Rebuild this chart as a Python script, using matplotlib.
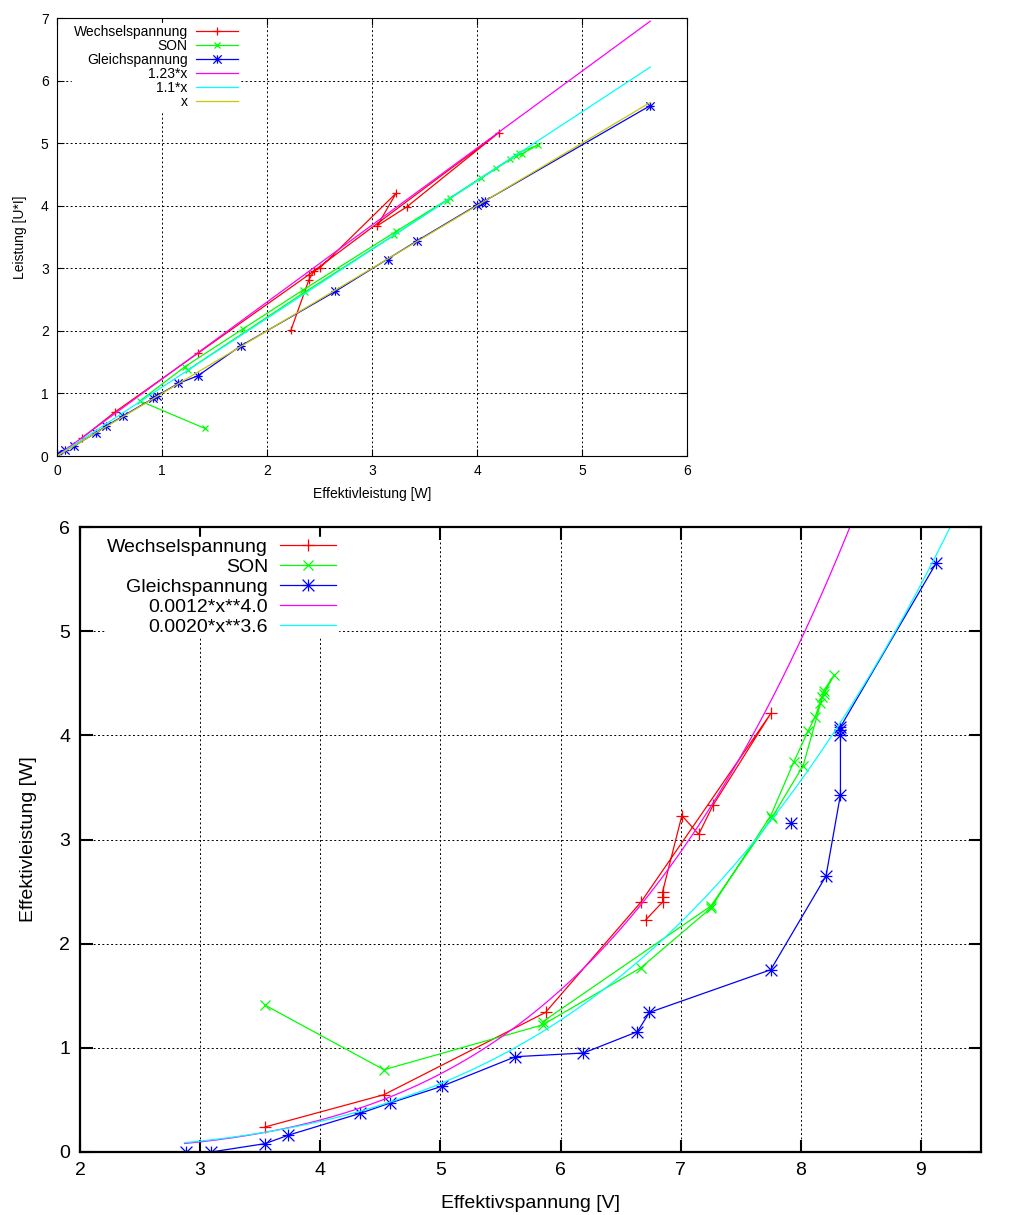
import numpy as np
import matplotlib
matplotlib.use('Agg')
import matplotlib.pyplot as plt
from matplotlib.path import Path

# Messwerte: U = Effektivspannung [V], P = Effektivleistung [W], UI = Leistung [U*I]
wU = [3.54, 4.53, 5.875, 6.67, 7.75, 7.27, 7.15, 7.01, 6.85, 6.85, 6.85, 6.71]
wP = [0.24, 0.55, 1.34, 2.40, 4.21, 3.33, 3.05, 3.23, 2.50, 2.45, 2.40, 2.23]
wUI = [0.29, 0.70, 1.64, 2.90, 5.17, 3.98, 3.68, 4.20, 3.00, 2.96, 2.82, 2.02]

sU = [3.54, 4.53, 5.85, 6.67, 7.25, 7.75, 7.94, 8.06, 8.12, 8.16, 8.19, 8.28, 8.19, 8.18, 8.02, 7.76, 7.25, 5.85]
sP = [1.41, 0.79, 1.22, 1.77, 2.34, 3.23, 3.74, 4.04, 4.18, 4.31, 4.40, 4.58, 4.43, 4.37, 3.71, 3.21, 2.36, 1.25]
sUI = [0.44, 0.88, 1.43, 2.03, 2.65, 3.59, 4.12, 4.45, 4.60, 4.74, 4.85, 4.97, 4.83, 4.80, 4.08, 3.53, 2.62, 1.38]

gU = [2.88, 3.09, 3.54, 3.73, 4.33, 4.58, 5.01, 5.625, 6.19, 6.64, 6.74, 7.75, 8.21, 8.33, 8.33, 8.33, 8.33, 9.125]
gP = [0.0, 0.0, 0.08, 0.16, 0.37, 0.47, 0.63, 0.915, 0.95, 1.155, 1.34, 1.75, 2.65, 3.43, 4.00, 4.05, 4.08, 5.65]
gUI = [0.03, 0.03, 0.10, 0.16, 0.37, 0.48, 0.64, 0.92, 0.96, 1.16, 1.28, 1.76, 2.63, 3.44, 4.01, 4.05, 4.08, 5.60]
# einzelner Punkt ohne Verbindung
gU2 = [7.92]
gP2 = [3.155]
gUI2 = [3.14]

# Fitfunktionen
faktoren = [1.23, 1.1, 1.0]
namen_oben = ['1.23*x', '1.1*x', 'x']
koeff = [(0.0012, 4.0), (0.0020, 3.6)]
namen_unten = ['0.0012*x**4.0', '0.0020*x**3.6']

plt.rcParams['font.family'] = ['Liberation Sans', 'DejaVu Sans']

rot = '#ff0000'
gruen = '#00ff00'
blau = '#0000ff'
farben_f = ['#ff00ff', '#00ffff', '#c8c800']

# Stern wie bei gnuplot (+ und x)
stern = Path([(-1, 0), (1, 0), (0, -1), (0, 1), (-1, -1), (1, 1), (-1, 1), (1, -1)],
             [Path.MOVETO, Path.LINETO] * 4)

fig = plt.figure(figsize=(10.18, 12.15), dpi=100)
ax1 = fig.add_axes([57/1018., 1-456/1215., 630/1018., 438/1215.])
ax2 = fig.add_axes([80/1018., 1-1152/1215., 901/1018., 625/1215.])

# ---- oben ----
lw = 0.9
ax1.plot(wP, wUI, color=rot, lw=lw, marker='+', ms=6, mew=0.9, mfc='none', label='Wechselspannung')
ax1.plot(sP, sUI, color=gruen, lw=lw, marker='x', ms=5, mew=0.9, mfc='none', label='SON')
ax1.plot(gP, gUI, color=blau, lw=lw, marker=stern, ms=6, mew=0.9, mfc='none', label='Gleichspannung')
ax1.plot(gP2, gUI2, color=blau, ls='none', marker=stern, ms=6, mew=0.9, mfc='none')
xf = np.linspace(0, 5.65, 200)
for k, n, c in zip(faktoren, namen_oben, farben_f):
	ax1.plot(xf, k*xf, color=c, lw=lw, label=n)

ax1.set_xlim(0, 6)
ax1.set_ylim(0, 7)
ax1.set_xticks(range(0, 7))
ax1.set_yticks(range(0, 8))
ax1.set_xlabel('Effektivleistung [W]', fontsize=10, labelpad=6)
ax1.set_ylabel('Leistung [U*I]', fontsize=10, labelpad=10)
ax1.tick_params(direction='in', top=True, right=True, length=5, width=0.8, labelsize=10, pad=6)
for s in ax1.spines.values():
	s.set_linewidth(0.8)
ax1.grid(True, color='black', ls=(0, (2, 2.5)), lw=0.7)
ax1.set_axisbelow(True)
leg1 = ax1.legend(loc='upper right', bbox_to_anchor=(0.2955, 0.997), markerfirst=False, fontsize=10,
	labelspacing=0.0, handlelength=3.0, handletextpad=0.6, borderpad=0.1, borderaxespad=0.3,
	fancybox=False, framealpha=1, facecolor='white', edgecolor='white')

# ---- unten ----
ax2.plot(wU, wP, color=rot, lw=lw, marker='+', ms=8, mew=0.9, mfc='none', label='Wechselspannung')
ax2.plot(sU, sP, color=gruen, lw=lw, marker='x', ms=7, mew=0.9, mfc='none', label='SON')
ax2.plot(gU, gP, color=blau, lw=lw, marker=stern, ms=8.5, mew=0.9, mfc='none', label='Gleichspannung')
ax2.plot(gU2, gP2, color=blau, ls='none', marker=stern, ms=8.5, mew=0.9, mfc='none')
xu = np.linspace(2.87, 9.5, 400)
for (a, b), n, c in zip(koeff, namen_unten, farben_f):
	ax2.plot(xu, a*xu**b, color=c, lw=lw, label=n)

ax2.set_xlim(2, 9.5)
ax2.set_ylim(0, 6)
ax2.set_xticks(range(2, 10))
ax2.set_yticks(range(0, 7))
ax2.set_xlabel('Effektivspannung [V]', fontsize=14, labelpad=12)
ax2.set_ylabel('Effektivleistung [W]', fontsize=14, labelpad=16)
ax2.tick_params(direction='in', top=True, right=True, length=9, width=1.5, labelsize=14, pad=7)
for s in ax2.spines.values():
	s.set_linewidth(1.6)
ax2.grid(True, color='black', ls=(0, (2, 2.5)), lw=0.7)
ax2.set_axisbelow(True)
leg2 = ax2.legend(loc='upper right', bbox_to_anchor=(0.293, 0.994), markerfirst=False, fontsize=14,
	labelspacing=0.115, handlelength=2.9, handletextpad=0.6, borderpad=0.1, borderaxespad=0.3,
	fancybox=False, framealpha=1, facecolor='white', edgecolor='white')

plt.savefig('out.png', dpi=100)
